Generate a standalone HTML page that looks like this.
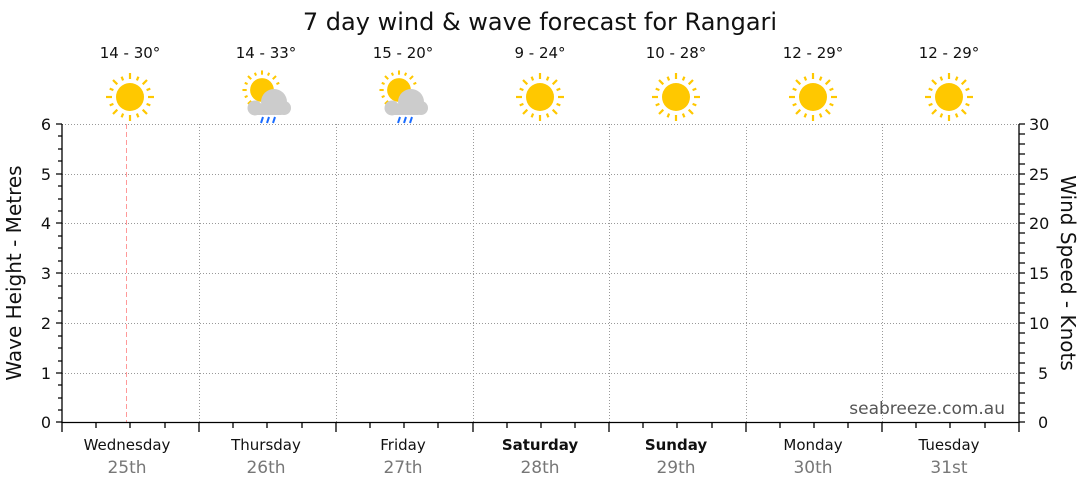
<!DOCTYPE html>
<html><head><meta charset="utf-8"><style>
body{margin:0;background:#fff;width:1080px;height:490px;overflow:hidden}
svg text{font-family:"DejaVu Sans","Liberation Sans",sans-serif}
</style></head><body>
<svg width="1080" height="490" viewBox="0 0 1080 490" xmlns="http://www.w3.org/2000/svg">
<defs>
<g id="sun">
<circle cx="0" cy="0" r="14" fill="#ffc800"/>
<g stroke="#ffc800" stroke-width="2.2">
<line x1="0" y1="-18" x2="0" y2="-24"/><line x1="0" y1="18" x2="0" y2="24"/>
<line x1="-18" y1="0" x2="-24" y2="0"/><line x1="18" y1="0" x2="24" y2="0"/>
<line x1="12.7" y1="12.7" x2="17" y2="17"/><line x1="-12.7" y1="12.7" x2="-17" y2="17"/>
<line x1="12.7" y1="-12.7" x2="17" y2="-17"/><line x1="-12.7" y1="-12.7" x2="-17" y2="-17"/>
<line x1="6.9" y1="-16.6" x2="8.4" y2="-20.3"/><line x1="-6.9" y1="-16.6" x2="-8.4" y2="-20.3"/>
<line x1="6.9" y1="16.6" x2="8.4" y2="20.3"/><line x1="-6.9" y1="16.6" x2="-8.4" y2="20.3"/>
<line x1="16.6" y1="6.9" x2="20.3" y2="8.4"/><line x1="-16.6" y1="6.9" x2="-20.3" y2="8.4"/>
<line x1="16.6" y1="-6.9" x2="20.3" y2="-8.4"/><line x1="-16.6" y1="-6.9" x2="-20.3" y2="-8.4"/>
</g></g>
<g id="rain">
<g transform="translate(0,-6) scale(0.85)">
<circle cx="0" cy="0" r="14" fill="#ffc800"/>
<g stroke="#ffc800" stroke-width="2.4">
<line x1="0" y1="-18" x2="0" y2="-23"/><line x1="-18" y1="0" x2="-23" y2="0"/>
<line x1="-12.7" y1="12.7" x2="-16.5" y2="16.5"/><line x1="12.7" y1="-12.7" x2="16.5" y2="-16.5"/><line x1="-12.7" y1="-12.7" x2="-16.5" y2="-16.5"/>
<line x1="7" y1="-17" x2="8.4" y2="-20.3"/><line x1="-7" y1="-17" x2="-8.4" y2="-20.3"/>
<line x1="-17" y1="7" x2="-20.3" y2="8.4"/><line x1="-17" y1="-7" x2="-20.3" y2="-8.4"/>
<line x1="17" y1="-7" x2="20.3" y2="-8.4"/>
</g></g>
<g fill="#cccccc">
<circle cx="12" cy="6" r="13"/><circle cx="-7" cy="12" r="7.5"/><circle cx="22" cy="12" r="7"/>
<rect x="-9" y="8" width="33" height="11" rx="5.5"/></g>
<g stroke="#1a6cff" stroke-width="2"><line x1="1" y1="21" x2="-1" y2="27"/><line x1="7" y1="21" x2="5" y2="27"/><line x1="13" y1="21" x2="11" y2="27"/></g>
</g>
</defs>
<text x="540" y="30" font-size="24" text-anchor="middle" fill="#111">7 day wind &amp; wave forecast for Rangari</text>
<g font-size="15" text-anchor="middle" fill="#111">
<text x="130" y="58">14 - 30°</text><text x="266" y="58">14 - 33°</text><text x="403" y="58">15 - 20°</text>
<text x="540" y="58">9 - 24°</text><text x="676" y="58">10 - 28°</text><text x="813" y="58">12 - 29°</text><text x="949" y="58">12 - 29°</text>
</g>
<use href="#sun" x="130" y="97"/>
<use href="#rain" x="262" y="96"/>
<use href="#rain" x="399" y="96"/>
<use href="#sun" x="540" y="97"/>
<use href="#sun" x="676" y="97"/>
<use href="#sun" x="813" y="97"/>
<use href="#sun" x="949" y="97"/>
<g stroke="#999" stroke-width="1" stroke-dasharray="1,2">
<line x1="62" y1="124.5" x2="1019" y2="124.5"/><line x1="62" y1="174.5" x2="1019" y2="174.5"/>
<line x1="62" y1="223.5" x2="1019" y2="223.5"/><line x1="62" y1="273.5" x2="1019" y2="273.5"/>
<line x1="62" y1="323.5" x2="1019" y2="323.5"/><line x1="62" y1="373.5" x2="1019" y2="373.5"/>
<line x1="199.5" y1="124" x2="199.5" y2="422"/><line x1="336.5" y1="124" x2="336.5" y2="422"/>
<line x1="473.5" y1="124" x2="473.5" y2="422"/><line x1="609.5" y1="124" x2="609.5" y2="422"/>
<line x1="746.5" y1="124" x2="746.5" y2="422"/><line x1="882.5" y1="124" x2="882.5" y2="422"/>
</g>
<line x1="126.5" y1="124" x2="126.5" y2="422" stroke="#ff9999" stroke-dasharray="5,3"/>
<text x="1005" y="414" font-size="17" text-anchor="end" fill="#555">seabreeze.com.au</text>
<g stroke="#000" stroke-width="1.3">
<line x1="62" y1="124" x2="62" y2="423"/>
<line x1="1019" y1="124" x2="1019" y2="423"/>
<line x1="62" y1="422.5" x2="1019" y2="422.5"/>
<path d="
M56 124H62M56 174H62M56 223H62M56 273H62M56 323H62M56 373H62M56 422H62
M58 136H62M58 149H62M58 161H62M58 186H62M58 199H62M58 211H62M58 236H62M58 248H62M58 261H62
M58 286H62M58 298H62M58 311H62M58 336H62M58 348H62M58 361H62M58 385H62M58 398H62M58 410H62
"/>
<path d="M62 422V432M199 422V432M336 422V432M473 422V432M609 422V432M746 422V432M882 422V432M1019 422V432
M96 422V428M130 422V428M165 422V428M233 422V428M267 422V428M302 422V428M370 422V428M404 422V428M438 422V428
M507 422V428M541 422V428M575 422V428M643 422V428M677 422V428M712 422V428M780 422V428M814 422V428M848 422V428
M916 422V428M950 422V428M985 422V428"/>
</g>
<g font-size="16" fill="#111" text-anchor="end">
<text x="51" y="130">6</text><text x="51" y="180">5</text><text x="51" y="229">4</text><text x="51" y="279">3</text>
<text x="51" y="329">2</text><text x="51" y="379">1</text><text x="51" y="428">0</text>
</g>
<g font-size="16" fill="#111">
<text x="1029" y="130">30</text><text x="1029" y="180">25</text><text x="1029" y="229">20</text><text x="1029" y="279">15</text>
<text x="1029" y="329">10</text><text x="1038" y="379">5</text><text x="1038" y="428">0</text>
</g>
<text transform="translate(21,273) rotate(-90)" font-size="20" text-anchor="middle" fill="#111">Wave Height - Metres</text>
<text transform="translate(1061,273) rotate(90)" font-size="20" text-anchor="middle" fill="#111">Wind Speed - Knots</text>
<g font-size="15" text-anchor="middle" fill="#111">
<text x="127" y="450">Wednesday</text><text x="266" y="450">Thursday</text><text x="403" y="450">Friday</text>
<text x="540" y="450" font-weight="bold">Saturday</text><text x="676" y="450" font-weight="bold">Sunday</text>
<text x="813" y="450">Monday</text><text x="949" y="450">Tuesday</text>
</g>
<g font-size="17" text-anchor="middle" fill="#777">
<text x="127" y="473">25th</text><text x="266" y="473">26th</text><text x="403" y="473">27th</text>
<text x="540" y="473">28th</text><text x="676" y="473">29th</text><text x="813" y="473">30th</text><text x="949" y="473">31st</text>
</g>
<path stroke="#000" stroke-width="1.3" d="
M1019 124H1025M1019 134H1025M1019 144H1025M1019 154H1025M1019 164H1025M1019 174H1025M1019 184H1025M1019 194H1025M1019 204H1025M1019 214H1025
M1019 223H1025M1019 233H1025M1019 243H1025M1019 253H1025M1019 263H1025M1019 273H1025M1019 283H1025M1019 293H1025M1019 303H1025M1019 313H1025
M1019 323H1025M1019 333H1025M1019 343H1025M1019 353H1025M1019 363H1025M1019 373H1025M1019 383H1025M1019 393H1025M1019 403H1025M1019 413H1025M1019 422H1025"/>
</svg>
</body></html>
